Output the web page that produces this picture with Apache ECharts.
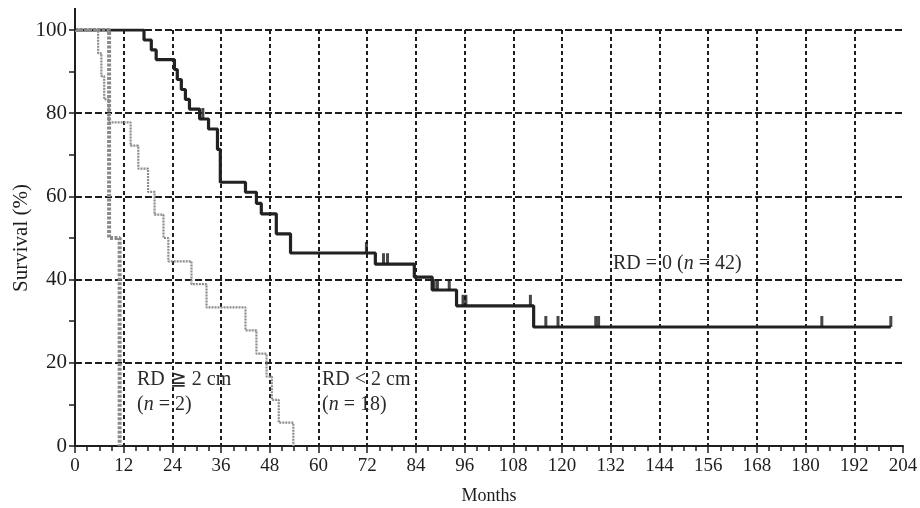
<!DOCTYPE html>
<html>
<head>
<meta charset="utf-8">
<script src="https://cdn.jsdelivr.net/npm/echarts@6/dist/echarts.min.js"></script>
<style>
  html, body { margin: 0; padding: 0; background: #fff; }
  #chart { width: 920px; height: 508px; }
</style>
</head>
<body>
<div id="chart"></div>
<script>
// Kaplan-Meier steps: [months] and [survival %]
const rd0Time = [0, 17, 18.8, 20, 24.5, 25.2, 26.2, 27.2, 28.2, 30.7, 32.9, 35.1, 35.8, 42, 44.7, 45.9, 49.6, 53.1, 74, 83.6, 88, 94, 113, 201];
const rd0Surv = [100, 97.6, 95.2, 92.9, 90.5, 88.1, 85.7, 83.3, 81.0, 78.6, 76.2, 71.3, 63.4, 61.0, 58.3, 55.8, 51.0, 46.4, 43.7, 40.6, 37.5, 33.7, 28.6, 28.6];

const rdSmallTime = [0, 5.7, 6.5, 7.2, 8.3, 13.7, 15.6, 18, 19.6, 21.8, 23, 28.7, 32.4, 42, 44.7, 47.2, 48.5, 50.2, 53.8];
const rdSmallSurv = [100, 94.4, 88.9, 83.3, 77.8, 72.2, 66.7, 61.1, 55.6, 50, 44.4, 38.9, 33.3, 27.8, 22.2, 16.7, 11.1, 5.6, 0];

const rdLargeTime = [0, 8.4, 11];
const rdLargeSurv = [100, 50, 0];

// censored observations on the RD = 0 curve
const censorTime = [31.5, 71.8, 76, 77, 88.5, 89.3, 92.2, 95.6, 96.3, 112.2, 116, 119, 128.3, 129, 184, 201];
const censorSurv = [78.6, 46.4, 43.7, 43.7, 37.5, 37.5, 37.5, 33.7, 33.7, 33.7, 28.6, 28.6, 28.6, 28.6, 28.6, 28.6];

const xTicks = { min: 0, max: 204, interval: 12 };
const yTicks = { min: 0, max: 100, interval: 20 };

const pairs = (xs, ys) => xs.map((x, i) => [x, ys[i]]);

const serif = "'Liberation Serif', 'Times New Roman', serif";
const ink = '#1e1e1e';

const chart = echarts.init(document.getElementById('chart'));

const option = {
  animation: false,
  backgroundColor: '#fff',
  grid: { left: 75, right: 17, top: 30, bottom: 62, outerBoundsMode: 'none' },
  xAxis: {
    type: 'value',
    min: xTicks.min,
    max: xTicks.max,
    interval: xTicks.interval,
    name: 'Months',
    nameLocation: 'middle',
    nameGap: 41,
    nameMoveOverlap: false,
    nameTextStyle: { fontFamily: serif, fontSize: 18, color: ink },
    axisLine: { lineStyle: { color: ink, width: 2 } },
    axisTick: { length: 7, lineStyle: { color: ink, width: 1.5 } },
    minorTick: { show: true, splitNumber: 4, length: 5, lineStyle: { color: ink, width: 1.5 } },
    axisLabel: { fontFamily: serif, fontSize: 19, color: ink, margin: 11 },
    splitLine: {
      show: true,
      showMinLine: false,
      showMaxLine: false,
      lineStyle: { color: ink, width: 2, type: [4, 3] }
    }
  },
  yAxis: {
    type: 'value',
    min: yTicks.min,
    max: yTicks.max,
    interval: yTicks.interval,
    name: 'Survival (%)',
    nameLocation: 'middle',
    nameGap: 43,
    nameMoveOverlap: false,
    nameTextStyle: { fontFamily: serif, fontSize: 21, color: ink },
    axisLine: { show: true, lineStyle: { color: ink, width: 2 } },
    axisTick: { show: true, length: 6, lineStyle: { color: ink, width: 1.5 } },
    minorTick: { show: true, splitNumber: 2, length: 6, lineStyle: { color: ink, width: 1.5 } },
    axisLabel: { fontFamily: serif, fontSize: 21, color: ink, margin: 8 },
    splitLine: {
      show: true,
      showMinLine: false,
      lineStyle: { color: ink, width: 2, type: [7, 3] }
    }
  },
  series: [
    {
      name: 'RD = 0',
      type: 'line',
      step: 'end',
      showSymbol: false,
      z: 3,
      lineStyle: { color: '#222', width: 3.2 },
      data: pairs(rd0Time, rd0Surv)
    },
    {
      name: 'censored',
      type: 'scatter',
      symbol: 'rect',
      symbolSize: [3, 11],
      symbolOffset: [0, '-50%'],
      z: 4,
      itemStyle: { color: '#1a1a1a' },
      data: pairs(censorTime, censorSurv)
    },
    {
      name: 'RD < 2 cm',
      type: 'line',
      step: 'end',
      showSymbol: false,
      z: 5,
      lineStyle: { color: '#8c8c8c', width: 2.2, type: [2, 1] },
      data: pairs(rdSmallTime, rdSmallSurv)
    },
    {
      name: 'RD ≧ 2 cm',
      type: 'line',
      step: 'end',
      showSymbol: false,
      z: 6,
      lineStyle: { color: '#8a8a8a', width: 4, type: [3, 1.5] },
      data: pairs(rdLargeTime, rdLargeSurv)
    }
  ]
};

chart.setOption(option);

// plot annotations
const rich = {
  r: { fontFamily: serif, fontSize: 20, fill: '#2a2a2a' },
  i: { fontFamily: serif, fontSize: 20, fontStyle: 'italic', fill: '#2a2a2a' }
};
const label = (x, y, text) => ({
  type: 'text',
  x: x,
  y: y,
  z: 20,
  style: { text: text, rich: rich, verticalAlign: 'middle', fontFamily: serif, fontSize: 20, fill: '#2a2a2a' }
});

// the y axis line runs a little above 100 in the original
const top100 = chart.convertToPixel({ gridIndex: 0 }, [0, 100]);

chart.setOption({
  graphic: [
    {
      type: 'line',
      z: 10,
      shape: { x1: top100[0], y1: top100[1], x2: top100[0], y2: top100[1] - 22 },
      style: { stroke: ink, lineWidth: 2 }
    },
    label(613, 264, '{r|RD = 0 (}{i|n}{r| = 42)}'),
    label(137, 380, '{r|RD ≧ 2 cm}'),
    label(137, 405, '{r|(}{i|n}{r| = 2)}'),
    label(322, 380, '{r|RD < 2 cm}'),
    label(322, 405, '{r|(}{i|n}{r| = 18)}')
  ]
});

window.addEventListener('resize', function () {
  chart.resize();
});
</script>
</body>
</html>
